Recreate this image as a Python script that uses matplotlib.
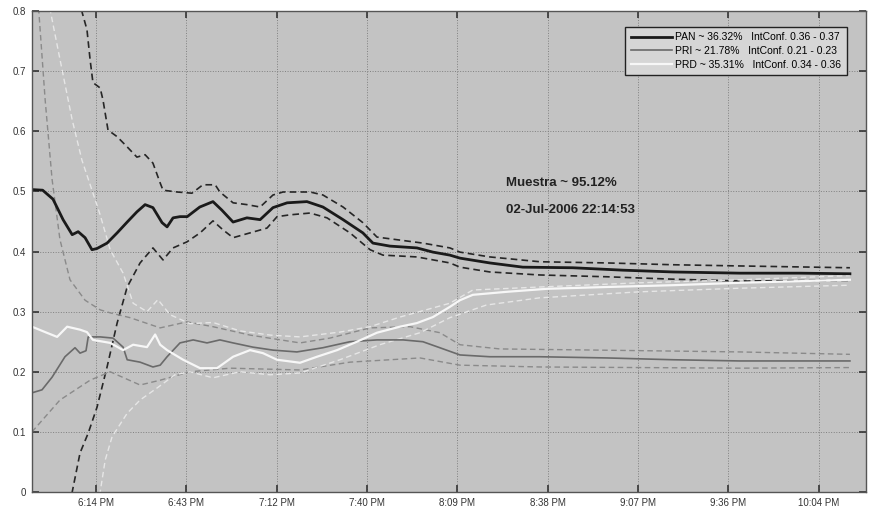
import matplotlib
matplotlib.use("Agg")
import matplotlib.pyplot as plt

# time axis: minutes after 6:00 PM
tick_pos = [14, 42.75, 71.5, 100.25, 129, 157.75, 186.5, 215.25, 244]
tick_lbl = ["6:14 PM", "6:43 PM", "7:12 PM", "7:40 PM", "8:09 PM",
            "8:38 PM", "9:07 PM", "9:36 PM", "10:04 PM"]

pan_t = [-6.4, -3, 0.3, 3.5, 6.4, 8.3, 10.5, 12.7, 14.3, 17.5, 20.7, 23.9, 27, 29.6,
         32.1, 35, 36.6, 38.5, 40.7, 43, 47, 51.2, 54, 57.6, 62, 66.2, 70.3, 74.8,
         81.1, 86.2, 92.6, 98.9, 102.1, 107.5, 116.1, 121.2, 126.6, 129.8, 139.3,
         149.8, 165.7, 181.6, 197.6, 218.9, 237.9, 253.9]
pan = [0.503, 0.502, 0.487, 0.453, 0.428, 0.433, 0.423, 0.403, 0.405, 0.414, 0.431,
       0.449, 0.466, 0.478, 0.473, 0.448, 0.441, 0.456, 0.458, 0.458, 0.474, 0.483,
       0.469, 0.449, 0.456, 0.453, 0.473, 0.481, 0.483, 0.474, 0.453, 0.431, 0.414,
       0.409, 0.406, 0.399, 0.394, 0.389, 0.381, 0.374, 0.373, 0.369, 0.366, 0.364,
       0.364, 0.363]

pan_hi_t = [8.6, 9.6, 11.1, 12.1, 13, 15.3, 16.2, 17.8, 20.7, 23.9, 27, 29.6, 32.1,
            34.4, 35.3, 39.8, 44.5, 48, 51.9, 53.4, 57.6, 62, 66.2, 70.3, 73.5, 82.1,
            86.2, 92.6, 98.9, 103.4, 110.7, 118, 126.6, 129.8, 139.3, 155.2, 176.6,
            197.6, 218.9, 253.9]
pan_hi = [0.82, 0.797, 0.769, 0.719, 0.681, 0.672, 0.652, 0.602, 0.591, 0.574, 0.557,
          0.561, 0.547, 0.514, 0.502, 0.499, 0.497, 0.511, 0.511, 0.499, 0.481, 0.478,
          0.474, 0.494, 0.499, 0.499, 0.494, 0.474, 0.448, 0.424, 0.419, 0.414, 0.406,
          0.399, 0.391, 0.383, 0.381, 0.378, 0.376, 0.373]

pan_lo_t = [5.7, 6.4, 8.9, 11.5, 14.3, 17.5, 20.7, 23.9, 28, 32.1, 35.3, 38.5, 42.9,
            47.1, 51.2, 54.4, 57.6, 63, 68.4, 71.6, 75.7, 82.1, 87.5, 94.8, 101.2,
            105.3, 116.1, 126.6, 129.8, 139.3, 155.2, 176.6, 197.6, 218.9, 253.9]
pan_lo = [-0.02, 0.0, 0.065, 0.098, 0.141, 0.208, 0.281, 0.341, 0.381, 0.406, 0.386,
          0.406, 0.416, 0.431, 0.451, 0.436, 0.423, 0.431, 0.439, 0.458, 0.461, 0.464,
          0.456, 0.431, 0.403, 0.394, 0.391, 0.381, 0.374, 0.366, 0.361, 0.358, 0.354,
          0.351, 0.352]

pri_t = [-6.4, -3.2, 0, 4.1, 7.3, 8.9, 10.8, 11.5, 15.3, 19.4, 22.6, 23.9, 28, 32.1,
         34.4, 36.6, 40.7, 44.9, 49.3, 53.4, 57.6, 63.9, 70.3, 77.9, 86.2, 94.8,
         103.4, 111.7, 118, 123.4, 129.8, 139.3, 155.2, 176.6, 197.6, 218.9, 253.9]
pri = [0.165, 0.170, 0.191, 0.225, 0.240, 0.231, 0.235, 0.258, 0.258, 0.256, 0.241,
       0.220, 0.216, 0.208, 0.211, 0.225, 0.248, 0.253, 0.248, 0.253, 0.248, 0.241,
       0.236, 0.233, 0.240, 0.250, 0.253, 0.253, 0.250, 0.240, 0.228, 0.225, 0.225,
       0.223, 0.220, 0.218, 0.218]

pri_hi_t = [-4.5, -2.2, 0, 2.5, 5.7, 10.5, 15.3, 18.5, 24.8, 34.4, 42.9, 51.2, 63,
            78.9, 88.4, 101.2, 113.9, 123.4, 129.8, 142.5, 174.3, 218.9, 253.9]
pri_hi = [0.82, 0.652, 0.52, 0.42, 0.353, 0.319, 0.303, 0.298, 0.290, 0.273, 0.283,
          0.275, 0.261, 0.248, 0.256, 0.273, 0.275, 0.265, 0.245, 0.238, 0.236, 0.233,
          0.229]

pri_lo_t = [-6.4, 2.5, 12.1, 18.5, 28, 34.4, 43.9, 56.6, 78.9, 94.8, 117.1, 129.8,
            155.2, 218.9, 253.9]
pri_lo = [0.10, 0.153, 0.186, 0.200, 0.178, 0.186, 0.200, 0.206, 0.203, 0.216, 0.223,
          0.211, 0.208, 0.206, 0.207]

prd_t = [-6.4, -2.2, 1.6, 4.8, 8.9, 11.1, 13, 18.5, 22.6, 25.8, 30.2, 32.8, 34.4, 36.6,
         41.7, 47.1, 52.5, 57.6, 63, 67.1, 71.6, 78.9, 84.3, 90.7, 97, 103.4, 110.7,
         116.1, 121.2, 126.6, 129.8, 133.9, 144.7, 157.5, 176.6, 197.6, 218.9, 253.9]
prd = [0.275, 0.266, 0.258, 0.275, 0.270, 0.266, 0.253, 0.248, 0.236, 0.245, 0.241,
       0.262, 0.245, 0.236, 0.220, 0.206, 0.206, 0.225, 0.236, 0.231, 0.220, 0.215,
       0.225, 0.236, 0.250, 0.265, 0.275, 0.281, 0.291, 0.308, 0.319, 0.328, 0.333,
       0.338, 0.341, 0.344, 0.348, 0.353]

prd_hi_t = [-1.3, 2.5, 6.4, 9.5, 12.7, 15.3, 18.5, 22.6, 25.8, 30.2, 33.7, 37.5, 43.9,
            51.2, 59.8, 69.4, 78.9, 91.6, 101.2, 110.7, 126.6, 133.9, 155.2, 187.1,
            218.9, 253.9]
prd_hi = [0.82, 0.72, 0.619, 0.552, 0.502, 0.461, 0.403, 0.364, 0.314, 0.300, 0.320,
          0.295, 0.280, 0.282, 0.268, 0.261, 0.258, 0.266, 0.275, 0.291, 0.314, 0.336,
          0.341, 0.348, 0.353, 0.360]

prd_lo_t = [14.6, 15.3, 16.9, 19.1, 23.9, 28, 33.4, 39.1, 43.9, 51.2, 59.8, 69.4, 78.9,
            91.6, 104.3, 117.1, 126.6, 138.2, 155.2, 187.1, 218.9, 253.9]
prd_lo = [-0.02, 0.0, 0.053, 0.092, 0.131, 0.153, 0.173, 0.195, 0.200, 0.190, 0.200,
          0.195, 0.198, 0.220, 0.245, 0.265, 0.290, 0.311, 0.323, 0.333, 0.339, 0.344]

labels = ["PAN ~ 36.32%   IntConf. 0.36 - 0.37",
          "PRI ~ 21.78%   IntConf. 0.21 - 0.23",
          "PRD ~ 35.31%   IntConf. 0.34 - 0.36"]

FONT = ["Liberation Sans Narrow", "Liberation Sans", "DejaVu Sans"]


def main():
	plt.rcParams["font.family"] = FONT
	fig = plt.figure(figsize=(8.71, 5.12), dpi=100)
	ax = fig.add_axes([0.0367, 0.039, 0.9575, 0.9395])
	ax.set_facecolor("#c3c3c3")

	ax.plot(pan_hi_t, pan_hi, color="#262626", lw=1.2, ls=(0, (4, 2.5)))
	ax.plot(pan_lo_t, pan_lo, color="#262626", lw=1.2, ls=(0, (4, 2.5)))
	ax.plot(pri_hi_t, pri_hi, color="#8a8a8a", lw=1.0, ls=(0, (4, 2.5)))
	ax.plot(pri_lo_t, pri_lo, color="#8a8a8a", lw=1.0, ls=(0, (4, 2.5)))
	ax.plot(prd_hi_t, prd_hi, color="#e6e6e6", lw=1.0, ls=(0, (4, 2.5)))
	ax.plot(prd_lo_t, prd_lo, color="#e6e6e6", lw=1.0, ls=(0, (4, 2.5)))

	ax.plot(pan_t, pan, color="#1a1a1a", lw=2.0, label=labels[0])
	ax.plot(pri_t, pri, color="#6a6a6a", lw=1.2, label=labels[1])
	ax.plot(prd_t, prd, color="#f7f7f7", lw=1.6, label=labels[2])

	ax.set_xlim(-6.4, 259)
	ax.set_ylim(0, 0.8)
	ax.set_xticks(tick_pos)
	ax.set_xticklabels(tick_lbl)
	ax.set_yticks([0, 0.1, 0.2, 0.3, 0.4, 0.5, 0.6, 0.7, 0.8])
	ax.set_yticklabels(["0", "0.1", "0.2", "0.3", "0.4", "0.5", "0.6", "0.7", "0.8"])
	ax.tick_params(direction="in", length=5, width=1.2, labelsize=7, colors="#333333",
	               top=True, right=True, pad=4)
	ax.grid(True, color="#808080", ls=":", lw=0.7)
	for s in ax.spines.values():
		s.set_color("#555555")
		s.set_linewidth(1.0)

	ax.text(144.4, 0.514, "Muestra ~ 95.12%", fontsize=9.5, color="#222222",
	        fontweight="bold", va="center", ha="left")
	ax.text(144.4, 0.469, "02-Jul-2006 22:14:53", fontsize=9.5, color="#222222",
	        fontweight="bold", va="center", ha="left")

	leg = ax.legend(loc="upper right", bbox_to_anchor=(0.983, 0.977), fontsize=7.5,
	                fancybox=False, framealpha=1, handlelength=4.0, borderpad=0.5,
	                labelspacing=0.35, handletextpad=0.3)
	leg.get_frame().set_facecolor("#d6d6d6")
	leg.get_frame().set_edgecolor("#222222")
	leg.get_frame().set_linewidth(1.0)

	plt.savefig("out.png", dpi=100)


if __name__ == '__main__':
	main()
